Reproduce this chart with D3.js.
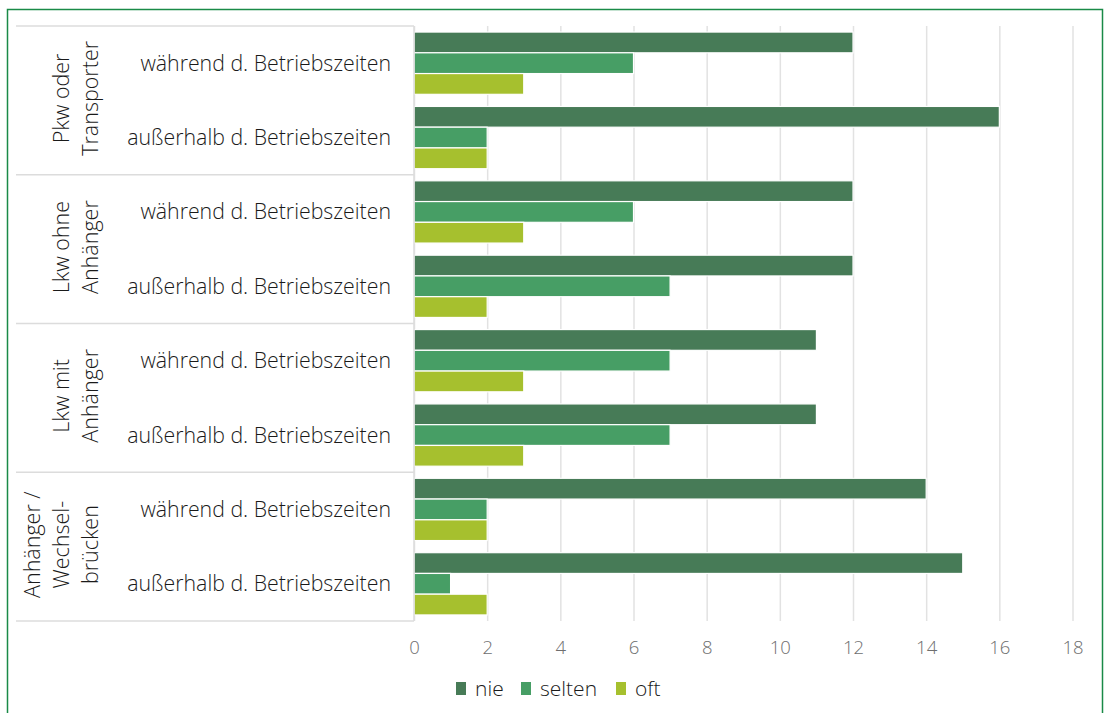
<!DOCTYPE html>
<html><head><meta charset="utf-8">
<script src="https://cdn.jsdelivr.net/npm/d3@7"></script>
<style>html,body{margin:0;padding:0;background:#fff;}svg{display:block;}</style>
</head><body>
<svg id="c" width="1104" height="713"></svg>
<script>
const groups = [["Pkw oder","Transporter"],["Lkw ohne","Anhänger"],["Lkw mit","Anhänger"],["Anhänger /","Wechsel-","brücken"]];
const subLabels = ["während d. Betriebszeiten","außerhalb d. Betriebszeiten"];
const seriesNames = ["nie","selten","oft"];
const nie    = [12,16,12,12,11,11,14,15];
const selten = [6,2,6,7,7,7,2,1];
const oft    = [3,2,3,2,3,3,2,2];
const xTicks = [0,2,4,6,8,10,12,14,16,18];
const colors = ["#477b57","#479e65","#a6c02e"];

const svg = d3.select("#c");
svg.append("rect").attr("x",7.5).attr("y",9.5).attr("width",1095).attr("height",720)
  .attr("fill","none").attr("stroke","#1a8a47").attr("stroke-width",1.5);

const pTop=26,pBottom=621,pLeft=414,pRight=1072.5;
const font="'Open Sans',sans-serif";
const x = d3.scaleLinear().domain([0,18]).range([pLeft,pRight]);
const rows = d3.range(8);
const y = d3.scaleBand().domain(rows).range([pTop,pBottom]).paddingInner(0.163).paddingOuter(0.0815);
const ys = d3.scaleBand().domain(seriesNames).range([0,y.bandwidth()]);
const gy = d3.scaleBand().domain(d3.range(4)).range([pTop,pBottom]);

// grid
const xAxis = d3.axisBottom(x).tickValues(xTicks).tickSize(-(pBottom-pTop)).tickPadding(20);
const gx = svg.append("g").attr("transform",`translate(0,${pBottom})`).call(xAxis);
gx.select(".domain").remove();
gx.selectAll(".tick line").attr("stroke","#e2e2e2").attr("stroke-width",1.5);
gx.selectAll(".tick text").attr("fill","#6e6e6e").attr("font-family",font).attr("font-weight",300).attr("font-size",18.5).attr("dy","0.71em");

// bars
const vals = [nie,selten,oft];
seriesNames.forEach((s,si)=>{
  svg.append("g").selectAll("rect").data(vals[si]).join("rect")
    .attr("x",x(0)).attr("y",(d,i)=>y(i)+ys(s))
    .attr("width",d=>x(d)-x(0)).attr("height",ys.bandwidth())
    .attr("fill",colors[si]).attr("stroke","#fff").attr("stroke-width",1.2);
});

// category axis
svg.append("line").attr("x1",pLeft).attr("x2",pLeft).attr("y1",pTop).attr("y2",pBottom).attr("stroke","#dcdcdc").attr("stroke-width",1.5);
d3.range(5).forEach(i=>{
  const yy = i<4? gy(i): pBottom;
  svg.append("line").attr("x1",16).attr("x2",pLeft).attr("y1",yy).attr("y2",yy).attr("stroke","#dcdcdc").attr("stroke-width",1.5);
});
svg.append("g").selectAll("text").data(rows).join("text")
  .attr("x",391).attr("y",i=>y(i)+y.bandwidth()/2).attr("dy","0.35em")
  .attr("text-anchor","end").attr("font-family",font).attr("font-weight",300).attr("font-size",21.3).attr("fill","#1a1a1a")
  .text(i=>subLabels[i%2]);
groups.forEach((g,gi)=>{
  const cy = gy(gi)+gy.bandwidth()/2 - 2;
  const n=g.length;
  g.forEach((line,li)=>{
    const bx = 98-(n-1-li)*29;
    svg.append("text").attr("transform",`translate(${bx},${cy}) rotate(-90)`)
      .attr("text-anchor","middle").attr("font-family",font).attr("font-weight",300).attr("font-size",21.5).attr("fill","#1a1a1a")
      .text(line);
  });
});

// legend
const lg = svg.append("g");
const lx=[456,521,616];
seriesNames.forEach((s,i)=>{
  lg.append("rect").attr("x",lx[i]).attr("y",682).attr("width",10).attr("height",13).attr("fill",colors[i]);
  lg.append("text").attr("x",lx[i]+19).attr("y",696).attr("font-family",font).attr("font-weight",300)
    .attr("font-size",21).attr("fill","#1a1a1a").text(s);
});
</script>
</body></html>
